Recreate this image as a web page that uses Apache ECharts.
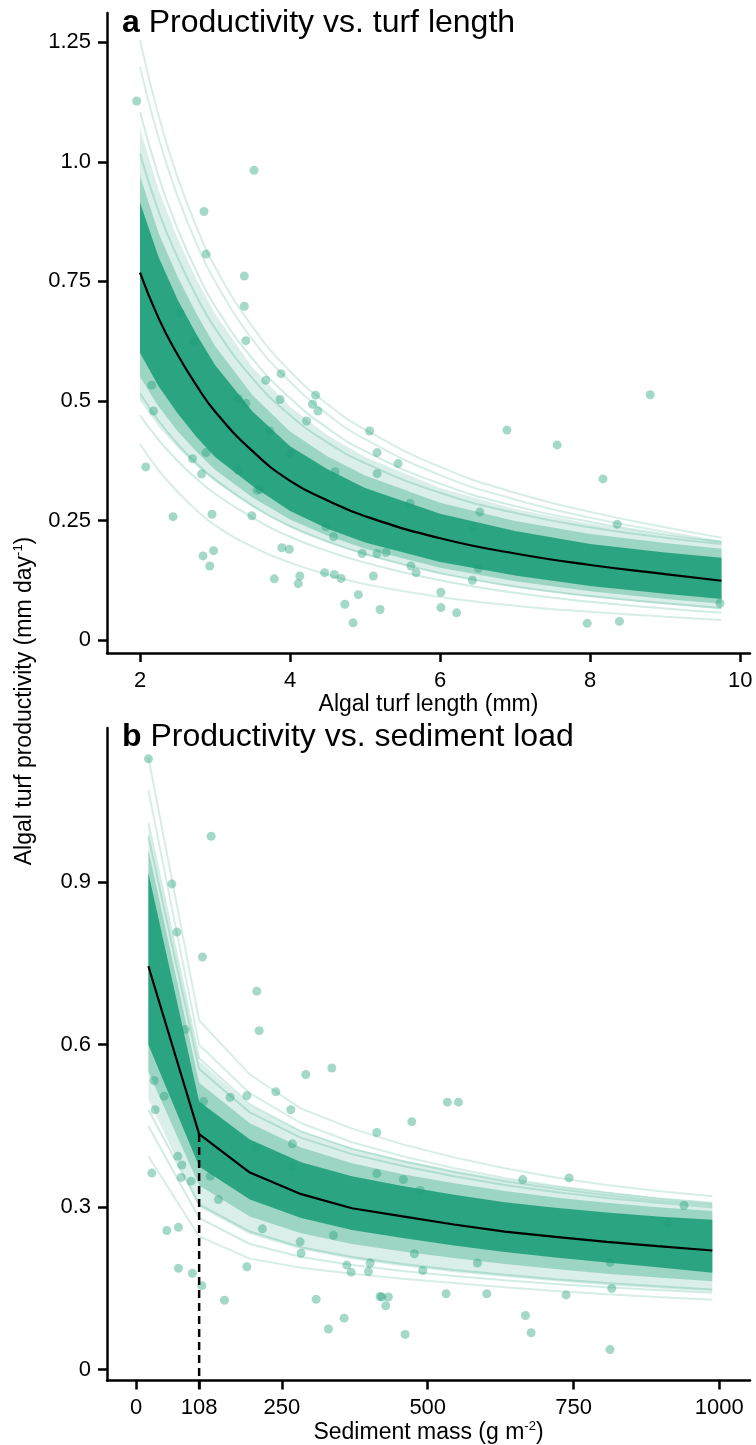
<!DOCTYPE html>
<html><head><meta charset="utf-8">
<script src="https://cdn.jsdelivr.net/npm/echarts@6/dist/echarts.min.js"></script>
<style>html,body{margin:0;padding:0;background:#fff}#c{width:756px;height:1445px}</style>
</head><body><div id="c"></div>
<script>
// ---------- Panel a: productivity vs turf length ----------
const aXTicks = [2, 4, 6, 8, 10];
const aXTickLabels = ['2', '4', '6', '8', '10'];
const aYTicks = [0, 0.25, 0.5, 0.75, 1.0, 1.25];
const aYTickLabels = ['0', '0.25', '0.5', '0.75', '1.0', '1.25'];

const aCurveX = [2, 2.25, 2.5, 2.75, 3, 3.5, 4, 4.5, 5, 6, 7, 8, 9, 9.75];
const aMean   = [0.768, 0.672, 0.597, 0.533, 0.478, 0.395, 0.333, 0.292, 0.259, 0.213, 0.181, 0.157, 0.138, 0.124];
const aCoreLo = [0.600, 0.530, 0.474, 0.425, 0.383, 0.322, 0.270, 0.233, 0.204, 0.163, 0.135, 0.113, 0.097, 0.086];
const aCoreHi = [0.915, 0.800, 0.712, 0.640, 0.575, 0.478, 0.405, 0.357, 0.318, 0.264, 0.228, 0.201, 0.183, 0.172];
const aMidLo  = [0.550, 0.488, 0.437, 0.394, 0.356, 0.298, 0.252, 0.218, 0.191, 0.151, 0.123, 0.102, 0.086, 0.076];
const aMidHi  = [0.970, 0.850, 0.760, 0.683, 0.615, 0.512, 0.436, 0.384, 0.344, 0.287, 0.249, 0.222, 0.203, 0.191];
const aOutLo  = [0.500, 0.446, 0.402, 0.364, 0.331, 0.278, 0.236, 0.204, 0.178, 0.138, 0.110, 0.090, 0.075, 0.064];
const aOutHi  = [1.070, 0.940, 0.840, 0.755, 0.682, 0.570, 0.488, 0.428, 0.383, 0.318, 0.274, 0.243, 0.220, 0.206];
const aDrawTop1 = [1.254, 1.095, 0.968, 0.865, 0.780, 0.655, 0.562, 0.493, 0.440, 0.362, 0.308, 0.268, 0.236, 0.214];
const aDrawTop2 = [1.198, 1.048, 0.928, 0.830, 0.750, 0.628, 0.540, 0.472, 0.420, 0.345, 0.294, 0.256, 0.226, 0.206];
const aDrawTop3 = [1.104, 0.968, 0.860, 0.772, 0.698, 0.588, 0.506, 0.443, 0.395, 0.327, 0.280, 0.247, 0.221, 0.205];
const aDrawTop4 = [1.017, 0.895, 0.800, 0.720, 0.652, 0.547, 0.470, 0.413, 0.370, 0.308, 0.266, 0.236, 0.214, 0.201];
const aDrawBot1 = [0.410, 0.355, 0.310, 0.272, 0.240, 0.195, 0.162, 0.137, 0.117, 0.090, 0.072, 0.059, 0.049, 0.042];
const aDrawBot2 = [0.470, 0.418, 0.375, 0.338, 0.306, 0.256, 0.216, 0.186, 0.162, 0.125, 0.099, 0.080, 0.066, 0.057];
const aDrawBot3 = [0.516, 0.458, 0.410, 0.370, 0.336, 0.281, 0.238, 0.206, 0.180, 0.140, 0.112, 0.092, 0.077, 0.067];

const aPtsX = [1.956,3.52,2.853,2.88,3.39,3.39,2.533,3.41,2.72,3.88,3.676,3.867,4.34,4.30,4.37,2.156,2.18,3.31,3.41,4.22,5.06,5.16,5.16,3.73,4.0,2.88,2.70,2.82,2.076,4.6,3.56,3.6,3.31,3.49,2.96,2.44,4.48,4.58,3.89,3.99,4.96,5.16,2.84,2.98,2.93,3.79,4.13,4.11,4.46,4.59,4.68,5.11,4.91,4.73,4.84,5.2,5.44,6.89,7.56,8.8,8.17,8.36,5.6,6.53,6.44,5.28,5.61,5.68,6.51,6.43,6.01,6.01,6.22,7.96,8.39,9.73];
const aPtsY = [1.127,0.982,0.896,0.807,0.761,0.698,0.683,0.626,0.625,0.557,0.543,0.503,0.512,0.493,0.479,0.533,0.479,0.505,0.495,0.458,0.437,0.392,0.348,0.437,0.39,0.392,0.379,0.347,0.362,0.352,0.313,0.315,0.355,0.26,0.263,0.258,0.237,0.216,0.193,0.19,0.181,0.181,0.176,0.187,0.155,0.128,0.134,0.118,0.141,0.137,0.129,0.134,0.095,0.075,0.036,0.064,0.369,0.439,0.408,0.513,0.337,0.242,0.286,0.268,0.237,0.183,0.155,0.141,0.15,0.125,0.1,0.068,0.057,0.035,0.039,0.077];

// ---------- Panel b: productivity vs sediment load ----------
const bXTicks = [0, 108, 250, 500, 750, 1000];
const bXTickLabels = ['0', '108', '250', '500', '750', '1000'];
const bYTicks = [0, 0.3, 0.6, 0.9];
const bYTickLabels = ['0', '0.3', '0.6', '0.9'];
const bThreshold = 108;

const bCurveX = [21, 108, 195, 283, 370, 457, 545, 632, 719, 807, 894, 988];
const bMean   = [0.745, 0.435, 0.364, 0.324, 0.298, 0.283, 0.268, 0.255, 0.245, 0.236, 0.228, 0.220];
const bCoreLo = [0.600, 0.375, 0.314, 0.280, 0.258, 0.243, 0.229, 0.217, 0.207, 0.198, 0.189, 0.179];
const bCoreHi = [0.917, 0.495, 0.425, 0.383, 0.357, 0.339, 0.323, 0.309, 0.299, 0.290, 0.283, 0.277];
const bMidLo  = [0.550, 0.340, 0.283, 0.252, 0.232, 0.218, 0.206, 0.195, 0.186, 0.177, 0.170, 0.163];
const bMidHi  = [0.960, 0.530, 0.455, 0.410, 0.381, 0.361, 0.344, 0.330, 0.318, 0.308, 0.300, 0.293];
const bOutLo  = [0.500, 0.300, 0.250, 0.222, 0.204, 0.191, 0.180, 0.171, 0.163, 0.156, 0.150, 0.144];
const bOutHi  = [1.000, 0.570, 0.488, 0.440, 0.409, 0.387, 0.368, 0.352, 0.339, 0.328, 0.318, 0.310];
const bDrawTop1 = [1.130, 0.645, 0.545, 0.482, 0.445, 0.416, 0.392, 0.372, 0.355, 0.341, 0.330, 0.320];
const bDrawTop2 = [1.070, 0.600, 0.510, 0.455, 0.420, 0.394, 0.372, 0.354, 0.339, 0.327, 0.316, 0.307];
const bDrawTop3 = [1.010, 0.575, 0.490, 0.440, 0.408, 0.385, 0.365, 0.348, 0.334, 0.322, 0.312, 0.304];
const bDrawTop4 = [0.985, 0.555, 0.475, 0.428, 0.398, 0.376, 0.357, 0.341, 0.328, 0.317, 0.308, 0.300];
const bDrawBot1 = [0.394, 0.246, 0.205, 0.188, 0.177, 0.168, 0.160, 0.152, 0.145, 0.139, 0.134, 0.129];
const bDrawBot2 = [0.450, 0.280, 0.232, 0.208, 0.193, 0.182, 0.173, 0.165, 0.158, 0.152, 0.147, 0.142];
const bDrawBot3 = [0.480, 0.305, 0.255, 0.226, 0.208, 0.195, 0.184, 0.175, 0.167, 0.160, 0.154, 0.148];

const bPtsX = [21.1,128.6,61.2,69.8,113.7,206.9,210.9,84,335.5,290.9,239.5,189.8,161.1,265.2,30.9,48,32.6,115.4,268,204,268,412.6,412.6,71.5,78.3,26.9,77.1,94.3,126.9,141.1,52.6,72.5,216.5,281.2,282.9,338.3,72.5,96.5,189.8,112.6,151.4,361.2,368.6,398.3,308.6,418.3,356.6,329.7,533.7,552.6,472.6,458.3,486.9,662.9,742.3,939.5,911.5,477.1,491.4,585.2,812.6,401.2,531.5,601.2,737.2,815.5,421.2,432.5,428.1,667.5,677.2,461.2,812.6];
const bPtsY = [1.128,0.985,0.897,0.808,0.762,0.699,0.626,0.628,0.557,0.545,0.513,0.506,0.503,0.48,0.534,0.505,0.48,0.495,0.417,0.409,0.375,0.438,0.362,0.394,0.378,0.363,0.355,0.348,0.357,0.314,0.257,0.263,0.26,0.236,0.215,0.248,0.187,0.178,0.19,0.155,0.128,0.193,0.18,0.181,0.13,0.135,0.095,0.075,0.494,0.494,0.458,0.351,0.331,0.351,0.354,0.303,0.27,0.214,0.183,0.197,0.198,0.197,0.14,0.14,0.138,0.15,0.134,0.134,0.118,0.1,0.068,0.065,0.037];

// ---------- build ----------
const TEAL = '#1b9e77';
const FONT = 'Liberation Sans, Arial, Helvetica, sans-serif';
const pairs = (xs, ys) => xs.map((x, i) => [x, ys[i]]);

function band(gi, xs, lo, hi, op, z) {
  return {
    type: 'custom', xAxisIndex: gi, yAxisIndex: gi, silent: true, z: z,
    data: [[xs[0], lo[0]]],
    renderItem: function (params, api) {
      const pts = [];
      for (let i = 0; i < xs.length; i++) pts.push(api.coord([xs[i], hi[i]]));
      for (let i = xs.length - 1; i >= 0; i--) pts.push(api.coord([xs[i], lo[i]]));
      return { type: 'polygon', shape: { points: pts }, style: { fill: TEAL, opacity: op } };
    }
  };
}
function line(gi, xs, ys, color, width, op, smooth, z) {
  return {
    type: 'line', xAxisIndex: gi, yAxisIndex: gi, silent: true, z: z,
    data: pairs(xs, ys), symbol: 'none', smooth: smooth,
    lineStyle: { color: color, width: width, opacity: op }
  };
}
function pts(gi, xs, ys) {
  return {
    type: 'scatter', xAxisIndex: gi, yAxisIndex: gi, silent: true, z: 1,
    data: pairs(xs, ys), symbolSize: 9,
    itemStyle: { color: TEAL, opacity: 0.4 }
  };
}
function xAxisCfg(gi, min, max, ticks, labels, name, gap, margin) {
  return {
    gridIndex: gi, type: 'value', min: min, max: max,
    axisLine: { show: true, onZero: false, lineStyle: { color: '#000', width: 2.5 } },
    axisTick: { show: true, length: 9, customValues: ticks, lineStyle: { color: '#000', width: 2.5 } },
    axisLabel: { customValues: ticks, fontSize: 22, color: '#000', fontFamily: FONT, margin: margin,
      formatter: v => labels[ticks.indexOf(v)] },
    splitLine: { show: false },
    name: name, nameLocation: 'middle', nameGap: gap,
    nameTextStyle: { fontSize: 23, color: '#000', fontFamily: FONT,
      rich: { n: { fontSize: 23, lineHeight: 26, fontFamily: FONT, color: '#000' },
              s: { fontSize: 13, lineHeight: 14, verticalAlign: 'top', fontFamily: FONT, color: '#000' } } }
  };
}
function yAxisCfg(gi, min, max, ticks, labels) {
  return {
    gridIndex: gi, type: 'value', min: min, max: max,
    axisLine: { show: true, onZero: false, lineStyle: { color: '#000', width: 2.5 } },
    axisTick: { show: true, length: 9, customValues: ticks, lineStyle: { color: '#000', width: 2.5 } },
    axisLabel: { customValues: ticks, fontSize: 22, color: '#000', fontFamily: FONT, margin: 16,
      formatter: v => labels[ticks.indexOf(v)] },
    splitLine: { show: false }
  };
}

const SA = 0.5;
const series = [
  pts(0, aPtsX, aPtsY),
  band(0, aCurveX, aOutLo, aOutHi, 0.16, 2),
  band(0, aCurveX, aMidLo, aMidHi, 0.32, 3),
  band(0, aCurveX, aCoreLo, aCoreHi, 0.88, 4),
  line(0, aCurveX, aDrawTop1, TEAL, 2, 0.18, SA, 5),
  line(0, aCurveX, aDrawTop2, TEAL, 2, 0.18, SA, 5),
  line(0, aCurveX, aDrawTop3, TEAL, 2, 0.2, SA, 5),
  line(0, aCurveX, aDrawTop4, TEAL, 2, 0.22, SA, 5),
  line(0, aCurveX, aDrawBot1, TEAL, 2, 0.18, SA, 5),
  line(0, aCurveX, aDrawBot2, TEAL, 2, 0.2, SA, 5),
  line(0, aCurveX, aDrawBot3, TEAL, 2, 0.22, SA, 5),
  line(0, aCurveX, aMean, '#000', 2.2, 1, SA, 6),

  pts(1, bPtsX, bPtsY),
  band(1, bCurveX, bOutLo, bOutHi, 0.16, 2),
  band(1, bCurveX, bMidLo, bMidHi, 0.32, 3),
  band(1, bCurveX, bCoreLo, bCoreHi, 0.88, 4),
  line(1, bCurveX, bDrawTop1, TEAL, 2, 0.18, false, 5),
  line(1, bCurveX, bDrawTop2, TEAL, 2, 0.18, false, 5),
  line(1, bCurveX, bDrawTop3, TEAL, 2, 0.2, false, 5),
  line(1, bCurveX, bDrawTop4, TEAL, 2, 0.22, false, 5),
  line(1, bCurveX, bDrawBot1, TEAL, 2, 0.18, false, 5),
  line(1, bCurveX, bDrawBot2, TEAL, 2, 0.2, false, 5),
  line(1, bCurveX, bDrawBot3, TEAL, 2, 0.22, false, 5),
  line(1, bCurveX, bMean, '#000', 2.2, 1, false, 6),
  {
    type: 'line', xAxisIndex: 1, yAxisIndex: 1, silent: true, z: 7, clip: false,
    data: [[bThreshold, bMean[1]], [bThreshold, -0.043]], symbol: 'none',
    lineStyle: { color: '#000', width: 2.5, type: [8, 5] }
  }
];

const chart = echarts.init(document.getElementById('c'), null, { renderer: 'canvas' });
chart.setOption({
  animation: false,
  backgroundColor: '#fff',
  textStyle: { fontFamily: FONT },
  grid: [
    { left: 107, top: 13, width: 643, height: 640 },
    { left: 107, top: 728, width: 643, height: 653 }
  ],
  xAxis: [
    xAxisCfg(0, 1.56, 10.13, aXTicks, aXTickLabels, '{n|Algal turf length (mm)}', 31, 17),
    xAxisCfg(1, -50, 1052.6, bXTicks, bXTickLabels, '{n|Sediment mass (g m}{s|-2}{n|)}', 34, 16)
  ],
  yAxis: [
    yAxisCfg(0, -0.027, 1.311, aYTicks, aYTickLabels),
    yAxisCfg(1, -0.0203, 1.185, bYTicks, bYTickLabels)
  ],
  graphic: [
    { type: 'text', left: 122, top: 7, silent: true,
      style: { text: '{b|a}{n| Productivity vs. turf length}', fill: '#000',
        rich: { b: { fontSize: 32, fontWeight: 'bold', lineHeight: 32, fontFamily: FONT },
                n: { fontSize: 32, lineHeight: 32, fontFamily: FONT } } } },
    { type: 'text', left: 122, top: 721, silent: true,
      style: { text: '{b|b}{n| Productivity vs. sediment load}', fill: '#000',
        rich: { b: { fontSize: 32, fontWeight: 'bold', lineHeight: 32, fontFamily: FONT },
                n: { fontSize: 32, lineHeight: 32, fontFamily: FONT } } } },
    { type: 'text', x: 25, y: 701, rotation: Math.PI / 2, silent: true,
      style: { text: '{n|Algal turf productivity (mm day}{s|-1}{n|)}', fill: '#000',
        align: 'center', verticalAlign: 'middle',
        rich: { n: { fontSize: 23, lineHeight: 26, fontFamily: FONT },
                s: { fontSize: 13, lineHeight: 14, verticalAlign: 'top', fontFamily: FONT } } } }
  ],
  series: series
});
</script>
</body></html>
